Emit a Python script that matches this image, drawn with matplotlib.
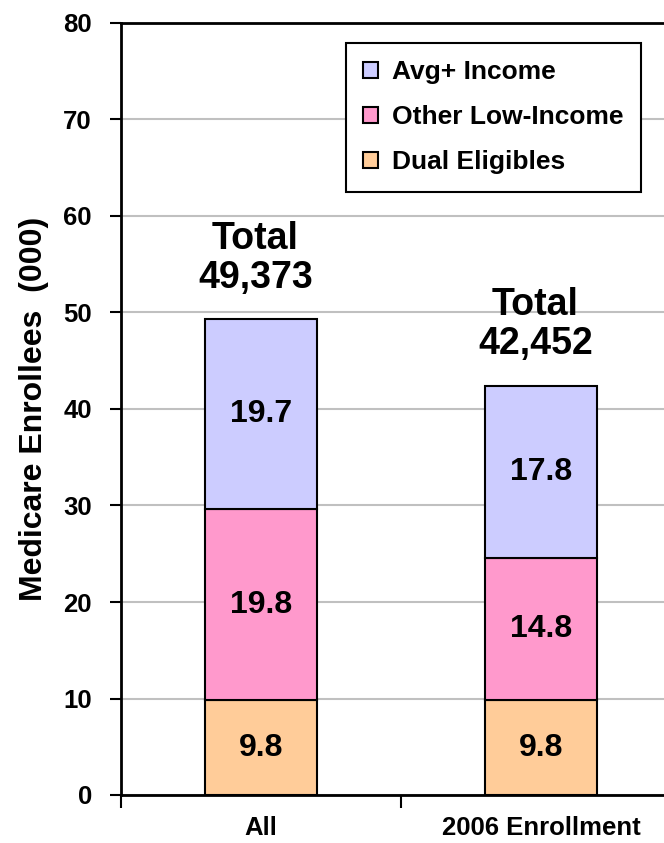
import matplotlib
matplotlib.use("Agg")
import matplotlib.pyplot as plt
import numpy as np

plt.rcParams['font.family'] = ['Liberation Sans', 'DejaVu Sans']
plt.rcParams['font.weight'] = 'bold'

categories = ["All", "2006 Enrollment"]
dual_eligibles = [9.8, 9.8]
other_low_income = [19.8, 14.8]
avg_plus_income = [19.7, 17.8]
totals_label = ["Total\n49,373", "Total\n42,452"]
y_ticks = [0, 10, 20, 30, 40, 50, 60, 70, 80]

series_names = ["Dual Eligibles", "Other Low-Income", "Avg+ Income"]
series_colors = ["#FFCC99", "#FF99CC", "#CCCCFF"]

fig = plt.figure(figsize=(6.64, 8.43), dpi=100)
ax = fig.add_axes([121 / 664, 48 / 843, 560 / 664, 772 / 843])

x = np.arange(len(categories))
width = 0.4
bottom = np.zeros(len(categories))
handles = []
for vals, name, col in zip([dual_eligibles, other_low_income, avg_plus_income],
                           series_names, series_colors):
    bars = ax.bar(x, vals, width, bottom=bottom, color=col, edgecolor="black",
                  linewidth=1.5, label=name, zorder=3)
    handles.append(bars)
    for xi, b, v in zip(x, bottom, vals):
        ax.text(xi, b + v / 2, f"{v:.1f}", ha="center", va="center",
                fontsize=23, fontweight="bold", zorder=4)
    bottom = bottom + np.array(vals)

for xi, top, lab in zip(x, bottom, totals_label):
    ax.annotate(lab, (xi, top), xytext=(-4, 17), textcoords="offset points",
                ha="center", va="bottom", fontsize=27, fontweight="bold",
                linespacing=1.1, zorder=1)

ax.set_xlim(-0.5, 1.5)
ax.set_ylim(0, 80)
ax.set_yticks(y_ticks)
ax.set_yticklabels([str(t) for t in y_ticks])
ax.yaxis.grid(True, color="#C0C0C0", linewidth=1.5, zorder=0)
ax.set_axisbelow(True)

ax.set_xticks(x)
ax.set_xticklabels(categories)
ax.set_xticks([-0.5, 0.5, 1.5], minor=True)
ax.tick_params(axis="x", which="major", length=0, pad=15, labelsize=18.5)
ax.tick_params(axis="x", which="minor", length=9, width=1.5, direction="out")
ax.tick_params(axis="y", length=8, width=1.5, direction="out", pad=13, labelsize=18.5)

for s in ["left", "bottom", "top"]:
    ax.spines[s].set_linewidth(2)
    ax.spines[s].set_color("black")
ax.spines["right"].set_visible(False)

ax.set_ylabel("Medicare Enrollees  (000)", fontsize=23, fontweight="bold", labelpad=10)

leg = ax.legend(handles[::-1], series_names[::-1], loc="upper left",
                bbox_to_anchor=(0.402, 0.974), borderaxespad=0, fancybox=False,
                edgecolor="black", framealpha=1, fontsize=19,
                handlelength=0.55, handleheight=0.55, handletextpad=0.55,
                labelspacing=0.8, borderpad=0.65)
leg.get_frame().set_linewidth(1.5)
for t in leg.get_texts():
    t.set_fontweight("bold")

fig.savefig("out.png", dpi=100)
